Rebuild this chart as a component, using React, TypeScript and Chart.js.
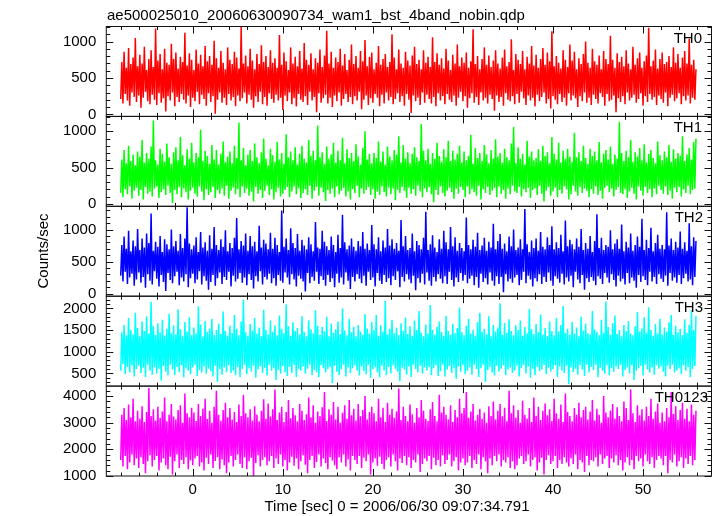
import React, { useEffect, useRef } from "react";
import { Chart, registerables } from "chart.js";

Chart.register(...registerables);

// ---- data ----
const TITLE = "ae500025010_20060630090734_wam1_bst_4band_nobin.qdp";
const X_TITLE = "Time [sec] 0 = 2006/06/30 09:07:34.791";
const Y_TITLE = "Counts/sec";
const TIME_START = -8; // sec, first bin
const BIN_WIDTH = 0.125; // sec
const X_MIN = -9.6;
const X_MAX = 57.6;
const X_TICKS = [0, 10, 20, 30, 40, 50];

const PANEL_LABELS = ["TH0", "TH1", "TH2", "TH3", "TH0123"];
const COLORS = ["#ff0000", "#00ff00", "#0000ff", "#00ffff", "#ff00ff"];

const TH0_COUNTS = [
  210, 720, 150, 860, 280, 640, 190, 910, 120, 690, 300, 780, 240, 1050, 170, 660,
  260, 820, 90, 700, 230, 930, 310, 610, 180, 760, 140, 880, 270, 650, 200, 1180,
  130, 740, 290, 830, 160, 620, 220, 900, 40, 710, 250, 680, 190, 970, 300, 760,
  110, 850, 240, 630, 170, 790, 280, 720, 200, 1120, 150, 670, 260, 840, 100, 750,
  230, 610, 180, 890, 310, 700, 140, 820, 270, 660, 210, 940, 120, 730, 290, 800,
  170, 680, 250, 1010, 10, 770, 200, 640, 300, 870, 160, 710, 230, 620, 130, 920,
  280, 750, 190, 690, 240, 860, 110, 780, 260, 630, 180, 1200, 220, 700, 300, 810,
  150, 660, 270, 900, 200, 740, 90, 620, 250, 830, 170, 690, 310, 950, 140, 720,
  240, 800, 120, 650, 290, 880, 210, 710, 160, 770, 270, 640, 190, 1090, 230, 680,
  60, 850, 260, 730, 180, 610, 300, 920, 140, 700, 220, 790, 110, 660, 280, 870,
  200, 630, 170, 980, 250, 750, 130, 680, 310, 840, 190, 620, 240, 770, 30, 710,
  290, 890, 160, 650, 220, 810, 270, 1150, 150, 700, 230, 860, 100, 640, 260, 780,
  180, 720, 300, 900, 120, 670, 210, 830, 280, 610, 170, 750, 240, 960, 140, 690,
  250, 800, 190, 640, 310, 870, 70, 730, 200, 1020, 260, 660, 130, 790, 220, 850,
  160, 620, 280, 710, 230, 940, 110, 680, 270, 760, 150, 830, 300, 650, 190, 720,
  240, 1100, 140, 780, 210, 620, 290, 890, 170, 700, 250, 640, 120, 860, 280, 740,
  200, 670, 20, 810, 260, 930, 180, 690, 230, 750, 130, 620, 300, 880, 160, 710,
  270, 790, 210, 650, 150, 1060, 240, 720, 110, 840, 290, 680, 190, 770, 250, 630,
  140, 900, 280, 740, 200, 610, 170, 820, 260, 700, 120, 960, 230, 660, 310, 780,
  180, 710, 250, 850, 90, 640, 220, 730, 290, 1170, 160, 690, 240, 800, 130, 620,
  300, 760, 190, 920, 230, 680, 150, 810, 270, 650, 210, 740, 50, 880, 260, 700,
  170, 630, 240, 780, 120, 890, 290, 660, 200, 720, 180, 1030, 250, 610, 140, 830,
  280, 750, 160, 690, 310, 870, 220, 620, 130, 790, 260, 700, 190, 940, 230, 670,
  110, 820, 270, 640, 180, 760, 240, 910, 300, 680, 150, 850, 210, 730, 80, 1140,
  250, 660, 200, 800, 140, 710, 280, 630, 170, 880, 230, 750, 120, 650, 290, 960,
  190, 740, 260, 860, 220, 620, 100, 770, 250, 690, 180, 830, 300, 1000, 160, 710,
  230, 640, 130, 900, 270, 730, 210, 680, 150, 810, 290, 620, 240, 870, 120, 760,
  280, 690, 180, 1080, 200, 750, 260, 640, 30, 840, 220, 720, 170, 790, 250, 660,
  140, 880, 300, 700, 190, 620, 230, 930, 270, 680, 160, 770, 210, 850, 290, 640,
  120, 730, 250, 810, 170, 1190, 280, 660, 200, 740, 240, 890, 130, 630, 260, 760,
  210, 850, 160, 690, 300, 720, 110, 800, 230, 650, 270, 920, 180, 710, 220, 830,
  290, 640, 140, 780, 250, 870, 190, 700, 260, 1040, 150, 680, 230, 750, 200, 620,
];

const TH1_COUNTS = [
  150, 610, 90, 740, 200, 560, 130, 800, 240, 590, 70, 680, 180, 530, 220, 720,
  110, 650, 190, 880, 60, 570, 230, 700, 140, 620, 170, 790, 100, 1150, 210, 600,
  240, 540, 80, 760, 160, 690, 200, 580, 120, 830, 250, 640, 150, 550, 10, 710,
  190, 780, 130, 600, 230, 920, 90, 670, 210, 530, 160, 750, 60, 620, 180, 840,
  220, 570, 140, 700, 100, 640, 240, 1020, 170, 590, 50, 730, 200, 660, 120, 550,
  160, 810, 230, 610, 80, 740, 190, 540, 140, 690, 210, 860, 110, 580, 250, 650,
  70, 720, 180, 560, 220, 800, 130, 630, 200, 1120, 90, 600, 240, 770, 150, 530,
  210, 680, 110, 740, 170, 590, 30, 830, 230, 640, 140, 560, 190, 710, 80, 900,
  180, 620, 250, 530, 120, 760, 200, 670, 60, 580, 160, 850, 220, 610, 100, 700,
  140, 550, 190, 960, 230, 640, 90, 720, 170, 600, 240, 780, 130, 540, 210, 690,
  80, 800, 150, 620, 200, 570, 120, 880, 250, 660, 70, 730, 180, 600, 230, 1080,
  110, 640, 220, 710, 160, 550, 40, 790, 190, 620, 140, 680, 210, 840, 90, 570,
  240, 730, 130, 600, 180, 910, 220, 560, 100, 750, 170, 630, 60, 700, 200, 590,
  150, 820, 250, 650, 90, 540, 210, 770, 140, 1000, 190, 610, 230, 690, 120, 560,
  200, 700, 70, 630, 170, 860, 120, 580, 240, 720, 160, 540, 100, 790, 220, 650,
  130, 600, 210, 740, 50, 680, 190, 930, 150, 570, 230, 810, 180, 620, 80, 710,
  220, 560, 140, 690, 200, 780, 110, 640, 250, 590, 170, 1100, 90, 730, 210, 600,
  160, 760, 230, 550, 130, 700, 20, 620, 190, 840, 120, 660, 240, 580, 150, 750,
  100, 640, 180, 870, 220, 590, 160, 730, 70, 610, 210, 690, 140, 800, 230, 570,
  190, 720, 90, 600, 240, 660, 130, 950, 200, 550, 160, 770, 110, 630, 250, 700,
  60, 590, 200, 810, 150, 680, 230, 560, 120, 740, 180, 620, 220, 890, 90, 650,
  240, 700, 140, 570, 190, 760, 70, 640, 210, 600, 130, 830, 250, 1060, 170, 560,
  150, 780, 230, 620, 100, 690, 200, 540, 160, 870, 220, 650, 80, 720, 190, 600,
  210, 630, 120, 750, 250, 590, 140, 800, 30, 660, 180, 710, 230, 560, 110, 920,
  170, 690, 220, 610, 90, 840, 190, 570, 140, 730, 240, 620, 200, 760, 60, 650,
  130, 580, 250, 980, 170, 640, 110, 710, 230, 590, 150, 800, 210, 630, 180, 550,
  90, 760, 200, 660, 140, 720, 240, 600, 120, 850, 180, 570, 70, 690, 220, 740,
  250, 610, 160, 790, 210, 550, 100, 680, 190, 620, 230, 1130, 150, 700, 130, 590,
  200, 730, 80, 640, 170, 880, 220, 580, 140, 710, 60, 650, 240, 770, 180, 600,
  110, 820, 230, 570, 150, 690, 200, 740, 90, 630, 210, 560, 130, 860, 250, 670,
  190, 600, 140, 720, 240, 640, 120, 810, 180, 580, 70, 750, 220, 620, 160, 700,
  230, 660, 100, 930, 200, 590, 150, 680, 250, 770, 130, 610, 190, 850, 210, 900,
];

const TH2_COUNTS = [
  280, 760, 190, 890, 340, 700, 150, 980, 250, 660, 310, 830, 120, 740, 220, 1010,
  330, 680, 170, 860, 260, 720, 90, 940, 300, 790, 200, 1250, 140, 670, 350, 810,
  230, 730, 110, 900, 290, 650, 180, 850, 40, 770, 320, 690, 210, 1000, 160, 740,
  270, 820, 340, 670, 130, 930, 250, 710, 190, 860, 300, 1350, 100, 780, 240, 690,
  310, 750, 160, 880, 220, 650, 350, 960, 140, 720, 270, 800, 200, 670, 60, 910,
  180, 700, 290, 1040, 120, 760, 240, 680, 330, 850, 150, 730, 260, 990, 210, 660,
  340, 790, 110, 710, 280, 870, 190, 1180, 230, 690, 320, 820, 170, 750, 250, 940,
  130, 670, 300, 900, 210, 740, 80, 810, 270, 660, 190, 1060, 350, 720, 140, 840,
  260, 780, 220, 690, 310, 950, 160, 700, 240, 870, 120, 760, 290, 650, 200, 1300,
  170, 730, 330, 860, 250, 680, 140, 1020, 300, 790, 220, 710, 110, 930, 280, 670,
  230, 840, 190, 750, 30, 690, 320, 880, 160, 770, 260, 660, 200, 1120, 340, 720,
  150, 700, 270, 980, 210, 810, 120, 740, 290, 680, 180, 890, 240, 760, 100, 650,
  310, 920, 170, 710, 250, 1230, 140, 800, 330, 690, 200, 750, 70, 860, 260, 730,
  190, 670, 300, 820, 230, 740, 160, 960, 280, 700, 120, 780, 340, 680, 210, 1070,
  250, 770, 110, 690, 320, 880, 200, 660, 150, 830, 290, 720, 180, 1010, 240, 750,
  130, 850, 270, 700, 210, 790, 350, 670, 100, 1150, 260, 740, 190, 900, 300, 680,
  220, 710, 160, 940, 280, 660, 50, 820, 240, 760, 170, 690, 310, 870, 140, 1280,
  330, 680, 200, 770, 120, 910, 260, 720, 190, 650, 300, 850, 230, 700, 160, 980,
  270, 800, 150, 690, 340, 1040, 210, 740, 110, 880, 250, 670, 180, 790, 320, 710,
  200, 660, 290, 1190, 160, 760, 230, 690, 280, 840, 130, 730, 260, 950, 90, 680,
  310, 750, 180, 870, 240, 670, 140, 810, 330, 720, 200, 1090, 120, 690, 270, 820,
  150, 930, 260, 700, 20, 780, 300, 660, 190, 890, 230, 740, 170, 1000, 250, 680,
  290, 720, 130, 850, 210, 690, 340, 1320, 160, 770, 280, 650, 220, 830, 110, 710,
  240, 860, 190, 670, 300, 960, 150, 730, 260, 690, 180, 880, 330, 760, 200, 1050,
  120, 690, 270, 800, 230, 710, 170, 920, 310, 660, 140, 1140, 250, 740, 190, 840,
  280, 770, 100, 690, 340, 860, 220, 730, 160, 1010, 290, 680, 60, 790, 240, 700,
  180, 900, 260, 650, 200, 820, 130, 1240, 270, 710, 230, 870, 150, 680, 320, 760,
  250, 730, 170, 990, 300, 690, 210, 780, 110, 850, 280, 700, 190, 1080, 230, 660,
  140, 810, 320, 720, 160, 940, 250, 670, 200, 760, 90, 890, 290, 730, 180, 1170,
  270, 680, 210, 840, 130, 710, 340, 1030, 190, 660, 260, 790, 150, 920, 300, 700,
  230, 760, 180, 690, 280, 1270, 120, 750, 320, 860, 200, 680, 250, 810, 170, 720,
  290, 970, 150, 700, 240, 800, 310, 670, 190, 1100, 220, 740, 130, 880, 260, 820,
];

const TH3_COUNTS = [
  560, 1450, 720, 1620, 480, 1380, 650, 1780, 520, 1500, 690, 1400, 430, 1900, 600, 1550,
  680, 1360, 510, 1700, 630, 1480, 420, 1820, 700, 1420, 560, 2150, 470, 1590, 640, 1390,
  500, 1660, 610, 1450, 330, 1740, 670, 1370, 540, 1530, 450, 1880, 700, 1430, 590, 1610,
  460, 1400, 650, 1980, 530, 1520, 690, 1360, 410, 1690, 620, 1470, 560, 1800, 480, 1380,
  640, 1560, 700, 1420, 440, 2050, 580, 1630, 520, 1350, 660, 1710, 490, 1460, 610, 1540,
  550, 1760, 430, 1390, 680, 1500, 300, 1650, 600, 1410, 470, 1930, 640, 1480, 530, 1370,
  690, 1600, 510, 1440, 570, 1850, 460, 1530, 650, 1380, 420, 1700, 610, 2200, 700, 1450,
  480, 1370, 620, 1640, 540, 1490, 680, 1780, 400, 1420, 590, 1560, 660, 1360, 510, 1970,
  630, 1510, 450, 1400, 700, 1720, 560, 1460, 620, 1610, 350, 1380, 580, 1840, 490, 1530,
  670, 1430, 530, 2100, 440, 1590, 650, 1370, 510, 1680, 690, 1480, 420, 1550, 600, 1400,
  560, 1820, 660, 1450, 490, 1360, 610, 1730, 700, 1520, 460, 1420, 580, 1960, 530, 1600,
  410, 1390, 690, 1570, 620, 1470, 520, 1810, 600, 1360, 650, 1650, 280, 1440, 680, 1520,
  540, 1700, 460, 1410, 590, 2000, 700, 1490, 430, 1380, 640, 1760, 510, 1450, 620, 1580,
  690, 1360, 570, 1620, 450, 1470, 660, 1390, 550, 1870, 480, 1540, 700, 1420, 400, 1690,
  600, 1500, 640, 1850, 520, 1370, 410, 1610, 680, 1460, 570, 2180, 460, 1400, 650, 1530,
  500, 1740, 690, 1430, 610, 1560, 540, 1380, 320, 1660, 630, 1480, 590, 1790, 470, 1410,
  660, 1590, 420, 1370, 700, 1720, 600, 1500, 530, 1940, 680, 1440, 490, 1360, 640, 1630,
  570, 1420, 650, 2080, 460, 1510, 620, 1400, 690, 1580, 440, 1700, 550, 1460, 700, 1370,
  430, 1830, 590, 1480, 670, 1390, 510, 1640, 620, 1430, 380, 1550, 660, 2020, 540, 1450,
  690, 1380, 480, 1600, 560, 1760, 640, 1420, 470, 1510, 700, 1370, 600, 1680, 420, 1900,
  620, 1460, 700, 1530, 300, 1400, 580, 1820, 650, 1360, 520, 1620, 450, 1470, 680, 1560,
  540, 2120, 610, 1390, 690, 1670, 460, 1440, 590, 1750, 640, 1480, 510, 1380, 570, 1610,
  680, 1500, 430, 1720, 620, 1370, 700, 1570, 500, 1430, 660, 1990, 400, 1520, 610, 1410,
  460, 1640, 650, 1450, 550, 1860, 590, 1390, 700, 1550, 480, 1360, 630, 1700, 540, 1480,
  600, 1380, 690, 1780, 420, 1470, 660, 1620, 570, 2060, 510, 1440, 680, 1530, 250, 1400,
  640, 1690, 530, 1420, 610, 1560, 470, 1360, 690, 1810, 590, 1490, 440, 1650, 700, 1430,
  520, 1400, 650, 1940, 580, 1520, 700, 1460, 410, 1380, 630, 1740, 560, 1440, 490, 2160,
  690, 1570, 460, 1390, 620, 1660, 540, 1840, 660, 1410, 600, 1500, 700, 1360, 430, 1620,
  580, 1480, 640, 1710, 500, 1430, 690, 1380, 350, 1590, 560, 1920, 620, 1470, 680, 1540,
  450, 1800, 700, 1440, 590, 2030, 520, 1500, 640, 1370, 470, 1640, 690, 1420, 610, 1760,
  660, 1400, 540, 1560, 430, 1470, 680, 1680, 600, 1850, 700, 1390, 520, 1600, 570, 1450,
  620, 1530, 480, 1380, 690, 1750, 560, 1440, 650, 1620, 410, 1960, 600, 1500, 670, 1820,
];

const TH0123_COUNTS = [
  1600, 3300, 1350, 3550, 1750, 3100, 1250, 3680, 1500, 3200, 1800, 3900, 1400, 3050, 1650, 3450,
  1300, 3150, 1700, 3620, 1450, 3020, 1100, 3400, 1550, 4300, 1780, 3250, 1350, 3500, 1600, 3080,
  1750, 3600, 1200, 3180, 1500, 3420, 1650, 3950, 1400, 3050, 1250, 3300, 1720, 3700, 1050, 3230,
  1550, 3120, 1800, 3480, 1300, 3650, 1600, 3000, 1450, 4100, 1700, 3350, 1250, 3200, 1580, 3560,
  1400, 3380, 1650, 3060, 1750, 3700, 1350, 3250, 1500, 3520, 1200, 3900, 1680, 3140, 1450, 3450,
  1800, 3000, 1300, 3600, 1560, 4200, 1700, 3300, 1250, 3070, 1620, 3480, 1400, 3750, 1100, 3200,
  1500, 3550, 1750, 3120, 1350, 3400, 1600, 3020, 1800, 3680, 1450, 3250, 1300, 4050, 1700, 3350,
  1250, 3200, 1550, 3500, 1680, 3080, 1000, 3620, 1480, 3300, 1780, 3050, 1350, 3450, 1600, 3880,
  1700, 3150, 1400, 3720, 1550, 3230, 1750, 3500, 1300, 4250, 1650, 3100, 1450, 3380, 1800, 3600,
  1350, 3020, 1600, 3400, 1200, 3850, 1500, 3170, 1720, 3550, 1380, 3280, 1650, 3050, 1250, 3700,
  1550, 3450, 1780, 3100, 1420, 3320, 1100, 3950, 1600, 3200, 1750, 3650, 1300, 3000, 1520, 3420,
  1800, 3250, 1350, 3580, 1650, 4150, 1480, 3060, 1250, 3500, 1700, 3300, 1580, 3780, 1400, 3120,
  1250, 3600, 1700, 3000, 1500, 3370, 1800, 3650, 1350, 3150, 1620, 3850, 1200, 3280, 1750, 3520,
  1600, 3080, 1450, 3700, 1750, 3240, 1300, 3480, 1680, 4000, 1550, 3120, 1800, 3400, 1050, 3600,
  1500, 3350, 1650, 3050, 1380, 3900, 1720, 3200, 1450, 3560, 1250, 3020, 1600, 3750, 1700, 3300,
  1350, 3520, 1800, 3180, 1550, 3420, 1200, 4280, 1650, 3100, 1480, 3600, 1750, 3250, 1400, 3050,
  1700, 3680, 1300, 3320, 1600, 3000, 1500, 3550, 1800, 3200, 1150, 3850, 1450, 3450, 1650, 3150,
  1550, 3060, 1750, 3500, 1250, 3780, 1680, 3250, 1400, 3050, 1600, 4050, 1350, 3380, 1780, 3600,
  1450, 3300, 1600, 3120, 1800, 3650, 1350, 3020, 1550, 3480, 1700, 3200, 1200, 3900, 1500, 3350,
  1650, 3550, 1400, 4150, 1500, 3180, 1750, 3420, 1300, 3700, 1600, 3080, 1450, 3300, 1800, 3520,
  1250, 3150, 1700, 3380, 1550, 3000, 1100, 3620, 1650, 3250, 1400, 3800, 1750, 3120, 1550, 3450,
  1800, 3700, 1350, 3240, 1600, 3560, 1500, 3050, 1700, 4200, 1300, 3350, 1550, 3650, 1250, 3180,
  1400, 3480, 1650, 3000, 1750, 3820, 1450, 3300, 1550, 3150, 1800, 3550, 1350, 3020, 1600, 3950,
  1700, 3250, 1200, 3600, 1500, 3100, 1680, 3450, 1050, 3720, 1600, 3280, 1780, 3500, 1450, 3060,
  1550, 3900, 1750, 3350, 1300, 3150, 1600, 3680, 1450, 3020, 1700, 4100, 1500, 3400, 1350, 3250,
  1650, 3050, 1450, 3550, 1800, 3300, 1250, 3750, 1600, 3200, 1500, 3480, 1150, 3600, 1750, 3120,
  1400, 3420, 1600, 3850, 1550, 3080, 1700, 3520, 1350, 3300, 1800, 3000, 1450, 4000, 1650, 3380,
  1750, 3200, 1300, 3460, 1650, 3700, 1500, 3150, 1780, 3580, 1400, 3250, 1600, 3050, 1200, 3800,
  1500, 3550, 1700, 3100, 1400, 4250, 1600, 3350, 1250, 3020, 1750, 3650, 1550, 3280, 1650, 3500,
  1350, 3080, 1800, 3600, 1550, 3250, 1450, 3900, 1700, 3150, 1300, 3420, 1600, 3720, 1750, 3000,
  1650, 3380, 1400, 3050, 1750, 3550, 1100, 3200, 1600, 4150, 1500, 3330, 1800, 3620, 1350, 3100,
  1550, 3480, 1700, 3750, 1300, 3150, 1650, 3520, 1450, 3050, 1750, 3680, 1400, 3300, 1600, 3450,
];

const SERIES = [TH0_COUNTS, TH1_COUNTS, TH2_COUNTS, TH3_COUNTS, TH0123_COUNTS];

const Y_RANGES = [
  [-28, 1207],
  [-35, 1205],
  [-42, 1364],
  [207, 2284],
  [995, 4375],
];
const Y_TICKS = [
  [0, 500, 1000],
  [0, 500, 1000],
  [0, 500, 1000],
  [500, 1000, 1500, 2000],
  [1000, 2000, 3000, 4000],
];
const Y_MINOR = [100, 100, 100, 100, 200];
const Y_MAJOR = [500, 500, 500, 500, 1000];

// ---- layout ----
const W = 717;
const H = 516;
const PLOT_LEFT = 106.3;
const PLOT_RIGHT = 711.5;
const PLOT_TOP = 26.5;
const PANEL_H = 89.9;
const FONT = "'Liberation Sans', Arial, Helvetica, sans-serif";
const LABEL_RIGHT = [702, 702, 703, 703, 708];

const frameTicksPlugin = {
  id: "frameTicks",
  afterDraw(chart: any, _args: any, opts: any) {
    const { ctx, chartArea: a, scales } = chart;
    const xs = scales.x;
    const ys = scales.y;
    ctx.save();
    ctx.strokeStyle = "#111";
    ctx.lineWidth = 1;
    ctx.strokeRect(a.left, a.top, a.right - a.left, a.bottom - a.top);
    ctx.beginPath();
    for (let v = Math.ceil(xs.min / 2) * 2; v <= xs.max + 1e-9; v += 2) {
      const px = Math.round(xs.getPixelForValue(v)) + 0.5;
      const len = Math.abs(v % 10) < 1e-9 ? 7 : 3.5;
      ctx.moveTo(px, a.top);
      ctx.lineTo(px, a.top + len);
      ctx.moveTo(px, a.bottom);
      ctx.lineTo(px, a.bottom - len);
    }
    const minor = opts.minor;
    const major = opts.major;
    for (let v = Math.ceil(ys.min / minor) * minor; v <= ys.max + 1e-9; v += minor) {
      const py = Math.round(ys.getPixelForValue(v)) + 0.5;
      const len = Math.abs(v % major) < 1e-9 ? 7 : 4;
      ctx.moveTo(a.left, py);
      ctx.lineTo(a.left + len, py);
      ctx.moveTo(a.right, py);
      ctx.lineTo(a.right - len, py);
    }
    ctx.stroke();
    ctx.fillStyle = "#000";
    ctx.font = `15px ${FONT}`;
    ctx.textAlign = "right";
    ctx.textBaseline = "alphabetic";
    ctx.fillText(opts.label, opts.labelRight, a.top + 16);
    if (opts.first) {
      ctx.textAlign = "left";
      ctx.fillText(TITLE, 107, 20);
      ctx.save();
      ctx.translate(47.5, 251);
      ctx.rotate(-Math.PI / 2);
      ctx.textAlign = "center";
      ctx.fillText(Y_TITLE, 0, 0);
      ctx.restore();
    }
    if (opts.last) {
      ctx.textAlign = "center";
      ctx.fillText(X_TITLE, 397, 511);
    }
    ctx.restore();
  },
};

export default function App() {
  const refs = useRef<(HTMLCanvasElement | null)[]>([]);

  useEffect(() => {
    const charts: Chart[] = [];
    SERIES.forEach((values, i) => {
      const canvas = refs.current[i];
      if (!canvas) return;
      const top = PLOT_TOP + i * PANEL_H;
      const bottom = top + PANEL_H;
      const last = i === SERIES.length - 1;
      const data = values.map((v, k) => ({ x: TIME_START + k * BIN_WIDTH, y: v }));
      const chart = new Chart(canvas, {
        type: "line",
        data: {
          datasets: [
            {
              label: PANEL_LABELS[i],
              data,
              borderColor: COLORS[i],
              backgroundColor: COLORS[i],
              borderWidth: 1.5,
              pointRadius: 0,
              tension: 0,
              fill: false,
            },
          ],
        },
        options: {
          responsive: false,
          animation: false,
          devicePixelRatio: 1,
          layout: {
            padding: {
              left: 0,
              right: W - PLOT_RIGHT,
              top,
              bottom: last ? 0 : H - bottom,
            },
          },
          plugins: {
            legend: { display: false },
            tooltip: { enabled: false },
            title: { display: false },
            frameTicks: {
              minor: Y_MINOR[i],
              major: Y_MAJOR[i],
              label: PANEL_LABELS[i],
              labelRight: LABEL_RIGHT[i],
              first: i === 0,
              last,
            },
          } as any,
          scales: {
            x: {
              type: "linear",
              min: X_MIN,
              max: X_MAX,
              display: last,
              grid: { display: false, drawTicks: false, tickLength: 0 },
              border: { display: false },
              afterBuildTicks: (scale: any) => {
                scale.ticks = X_TICKS.map((value) => ({ value }));
              },
              afterFit: (scale: any) => {
                scale.height = last ? H - bottom : 0;
              },
              ticks: {
                autoSkip: false,
                maxRotation: 0,
                padding: 5,
                color: "#000",
                font: { family: FONT, size: 15 },
                callback: (v: any) => String(v),
              },
            },
            y: {
              type: "linear",
              min: Y_RANGES[i][0],
              max: Y_RANGES[i][1],
              grid: { display: false, drawTicks: false, tickLength: 0 },
              border: { display: false },
              afterBuildTicks: (scale: any) => {
                scale.ticks = Y_TICKS[i].map((value) => ({ value }));
              },
              afterFit: (scale: any) => {
                scale.width = PLOT_LEFT;
              },
              ticks: {
                autoSkip: false,
                padding: 10,
                color: "#000",
                font: { family: FONT, size: 15 },
                callback: (v: any) => String(v),
              },
            },
          },
        },
        plugins: [frameTicksPlugin],
      });
      charts.push(chart);
    });
    return () => charts.forEach((c) => c.destroy());
  }, []);

  return (
    <div style={{ position: "fixed", left: 0, top: 0, width: W, height: H, background: "#fff" }}>
      {SERIES.map((_, i) => (
        <canvas
          key={i}
          ref={(el) => {
            refs.current[i] = el;
          }}
          width={W}
          height={H}
          style={{ position: "absolute", left: 0, top: 0, width: W, height: H }}
        />
      ))}
    </div>
  );
}
